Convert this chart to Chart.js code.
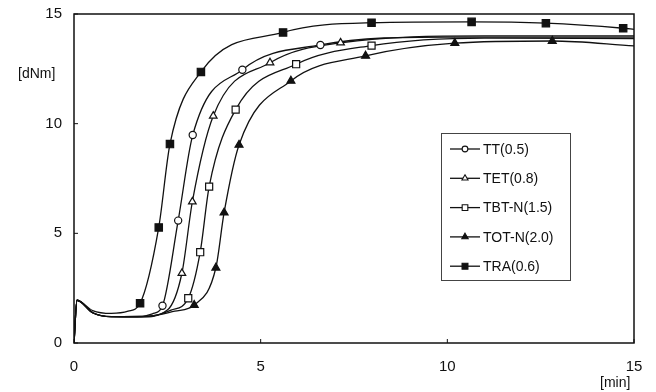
<!DOCTYPE html>
<html>
<head>
<meta charset="utf-8">
<script src="https://cdn.jsdelivr.net/npm/chart.js@4/dist/chart.umd.min.js"></script>
<style>
  html, body { margin: 0; padding: 0; background: #fff; }
  #wrap { width: 656px; height: 392px; }
</style>
</head>
<body>
<div id="wrap"><canvas id="myChart" width="656" height="392"></canvas></div>
<script>
// tick values
const xTicks = [0, 5, 10, 15];
const yTicks = [0, 5, 10, 15];

const labels = ['TT(0.5)', 'TET(0.8)', 'TBT-N(1.5)', 'TOT-N(2.0)', 'TRA(0.6)'];

// marker points [min, dNm]
const ttMarks  = [[2.37, 1.70], [2.79, 5.58], [3.18, 9.48], [4.51, 12.46], [6.6, 13.59]];
const tetMarks = [[2.89, 3.18], [3.17, 6.44], [3.73, 10.35], [5.25, 12.78], [7.14, 13.69]];
const tbtMarks = [[3.06, 2.04], [3.38, 4.14], [3.62, 7.13], [4.33, 10.64], [5.95, 12.71], [7.97, 13.56]];
const totMarks = [[3.22, 1.73], [3.80, 3.43], [4.02, 5.94], [4.42, 9.03], [5.81, 11.95], [7.81, 13.09], [10.2, 13.67], [12.81, 13.77]];
const traMarks = [[1.77, 1.81], [2.27, 5.27], [2.57, 9.07], [3.40, 12.36], [5.6, 14.16], [7.97, 14.6], [10.65, 14.64], [12.64, 14.58], [14.71, 14.35]];

// other points along each curve (no marker drawn there)
const ttPath  = [[0, 0], [0.08, 1.95], [0.5, 1.38], [1.0, 1.2], [1.7, 1.19], [2.1, 1.33], [10, 13.95], [15, 13.95]];
const tetPath = [[0, 0], [0.08, 1.95], [0.5, 1.38], [1.0, 1.2], [1.8, 1.19], [2.5, 1.5], [11, 14.0], [15, 14.0]];
const tbtPath = [[0, 0], [0.08, 1.95], [0.5, 1.38], [1.0, 1.2], [2.0, 1.22], [2.6, 1.5], [11, 13.9], [15, 13.88]];
const totPath = [[0, 0], [0.08, 1.95], [0.5, 1.38], [1.0, 1.2], [2.0, 1.22], [2.7, 1.45], [15, 13.55]];
const traPath = [[0, 0], [0.08, 1.95], [0.5, 1.48], [1.0, 1.35], [1.45, 1.45], [15, 14.3]];

const markStyle = [
  { style: 'circle', r: 3.6, fill: '#fff' },
  { style: 'triangle', r: 4.4, fill: '#fff' },
  { style: 'rect', r: 5, fill: '#fff' },
  { style: 'triangle', r: 4.6, fill: '#111' },
  { style: 'rect', r: 5.2, fill: '#111' }
];

function toPts(arr) {
  return arr.map(p => ({ x: p[0], y: p[1] }));
}
function curve(path, marks) {
  return toPts(path.concat(marks)).sort((a, b) => a.x - b.x);
}

const allMarks = [ttMarks, tetMarks, tbtMarks, totMarks, traMarks];
const allPaths = [ttPath, tetPath, tbtPath, totPath, traPath];

var datasets = [];
for (let i = 0; i < labels.length; i++) {
  datasets.push({
    type: 'line',
    label: labels[i],
    data: curve(allPaths[i], allMarks[i]),
    borderColor: '#111',
    borderWidth: 1.3,
    pointRadius: 0,
    cubicInterpolationMode: 'monotone',
    fill: false,
    order: 2
  });
}
for (let i = 0; i < labels.length; i++) {
  datasets.push({
    type: 'scatter',
    label: labels[i] + ' marks',
    data: toPts(allMarks[i]),
    showLine: false,
    pointStyle: markStyle[i].style,
    pointRadius: markStyle[i].r,
    pointBackgroundColor: markStyle[i].fill,
    pointBorderColor: '#111',
    pointBorderWidth: 1.2,
    order: 1
  });
}

// frame, inward ticks, axis units, legend box
const decor = {
  id: 'decor',
  afterDraw(chart) {
    const c = chart.ctx;
    const a = chart.chartArea;
    const xs = chart.scales.x, ys = chart.scales.y;
    c.save();
    c.strokeStyle = '#111';
    c.lineWidth = 1.5;
    c.strokeRect(a.left, a.top, a.right - a.left, a.bottom - a.top);
    c.lineWidth = 1;
    xTicks.forEach(v => {
      const px = xs.getPixelForValue(v);
      c.beginPath(); c.moveTo(px, a.bottom); c.lineTo(px, a.bottom - 4); c.stroke();
    });
    yTicks.forEach(v => {
      const py = ys.getPixelForValue(v);
      c.beginPath(); c.moveTo(a.left, py); c.lineTo(a.left + 4, py); c.stroke();
    });
    c.fillStyle = '#111';
    c.font = '14px "Liberation Sans", Arial, sans-serif';
    c.textBaseline = 'middle';
    c.textAlign = 'left';
    c.fillText('[dNm]', 18, 74);
    c.fillText('[min]', 600, 383);

    // legend
    const lx = 441, ly = 133, lw = 129, lh = 147;
    c.fillStyle = '#fff';
    c.fillRect(lx, ly, lw, lh);
    c.strokeStyle = '#444';
    c.lineWidth = 1;
    c.strokeRect(lx + 0.5, ly + 0.5, lw, lh);
    for (let i = 0; i < labels.length; i++) {
      const y = 149 + i * 29.3;
      c.strokeStyle = '#111';
      c.lineWidth = 1.3;
      c.beginPath(); c.moveTo(450, y); c.lineTo(480, y); c.stroke();
      const ms = markStyle[i];
      c.fillStyle = ms.fill;
      c.lineWidth = 1.1;
      Chart.helpers.drawPoint(c, { pointStyle: ms.style, radius: ms.r * 0.8, borderWidth: 1.1 }, 465, y);
      c.fillStyle = '#111';
      c.font = '14px "Liberation Sans", Arial, sans-serif';
      c.fillText(labels[i], 483, y + 1);
    }
    c.restore();
  }
};

var myChart = new Chart(document.getElementById('myChart'), {
  data: { datasets: datasets },
  options: {
    responsive: false,
    animation: false,
    layout: { padding: { left: 0, right: 22, top: 14, bottom: 0 } },
    plugins: {
      legend: false,
      tooltip: { enabled: false }
    },
    scales: {
      x: {
        type: 'linear',
        min: 0, max: 15,
        afterFit(s) { s.height = 49; s.paddingLeft = 0; s.paddingRight = 0; },
        afterBuildTicks(s) { s.ticks = xTicks.map(v => ({ value: v })); },
        grid: { display: false, drawTicks: false },
        border: { display: false },
        ticks: {
          padding: 15,
          color: '#111',
          font: { family: '"Liberation Sans", Arial, sans-serif', size: 15 }
        }
      },
      y: {
        type: 'linear',
        min: 0, max: 15,
        afterFit(s) { s.width = 74; s.paddingTop = 0; s.paddingBottom = 0; },
        afterBuildTicks(s) { s.ticks = yTicks.map(v => ({ value: v })); },
        grid: { display: false, drawTicks: false },
        border: { display: false },
        ticks: {
          padding: 12,
          color: '#111',
          font: { family: '"Liberation Sans", Arial, sans-serif', size: 15 }
        }
      }
    }
  },
  plugins: [decor]
});
</script>
</body>
</html>
